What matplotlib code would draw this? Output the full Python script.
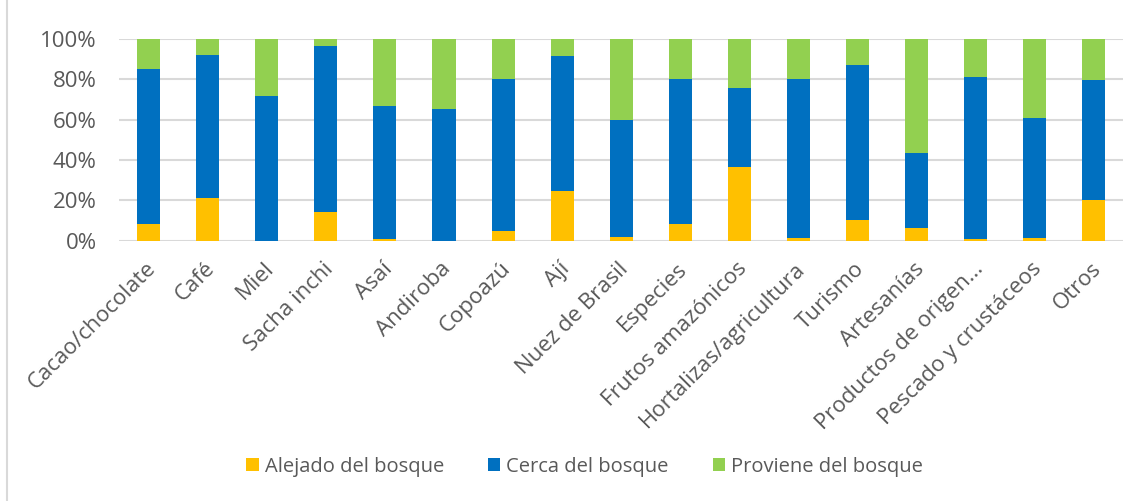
import numpy as np
import matplotlib.pyplot as plt
import matplotlib.patches as patches
import matplotlib.transforms as mtransforms
from matplotlib.ticker import PercentFormatter
#------------------------------
categorias = ["Cacao/chocolate", "Café", "Miel", "Sacha inchi", "Asaí", "Andiroba",
              "Copoazú", "Ají", "Nuez de Brasil", "Especies", "Frutos amazónicos",
              "Hortalizas/agricultura", "Turismo", "Artesanías", "Productos de origen...",
              "Pescado y crustáceos", "Otros"]
alejado  = [8.1, 21.4, 0.0, 14.1, 0.7, 0.0, 4.6, 24.7, 1.8, 8.4, 36.3, 1.3, 10.3, 6.5, 0.8, 1.5, 20.0]
cerca    = [77.2, 70.5, 71.9, 82.3, 66.2, 65.4, 75.7, 66.9, 58.1, 71.9, 39.2, 79.0, 77.0, 37.2, 80.2, 59.1, 59.5]
proviene = [14.7, 8.1, 28.1, 3.6, 33.1, 34.6, 19.7, 8.4, 40.1, 19.7, 24.5, 19.7, 12.7, 56.3, 19.0, 39.4, 20.5]
series = ["Alejado del bosque", "Cerca del bosque", "Proviene del bosque"]
#------------------------------
plt.rcParams['font.family'] = ['Open Sans', 'DejaVu Sans']
gris = '#595959'

fig = plt.figure(figsize=(11.42, 5.01), dpi=100)
ax = fig.add_axes([0.1042, 0.5196, 0.8796, 0.4026])

# borde del area del grafico
fig.patches.append(patches.Rectangle((7/1142, -0.1), 1.2, 1.2, transform=fig.transFigure,
                                     fill=False, edgecolor='#d9d9d9', lw=1.5))

x = np.arange(len(categorias))
a = np.array(alejado)
c = np.array(cerca)
p = np.array(proviene)
w = 0.39
ax.bar(x, a, w, color='#FFC000', label=series[0], zorder=3)
ax.bar(x, c, w, bottom=a, color='#0070C0', label=series[1], zorder=3)
ax.bar(x, p, w, bottom=a+c, color='#92D050', label=series[2], zorder=3)

ax.set_xlim(-0.5, len(categorias)-0.5)
ax.set_ylim(0, 100)
ax.set_yticks(range(0, 101, 20))
ax.yaxis.set_major_formatter(PercentFormatter(decimals=0))
ax.grid(axis='y', color='#d9d9d9', lw=1.5, zorder=0)
for s in ax.spines.values():
    s.set_visible(False)
ax.tick_params(axis='y', length=0, pad=16, labelsize=16, labelcolor=gris)
ax.tick_params(axis='x', length=0, pad=18)
ax.set_xticks(x)
ax.set_xticklabels(categorias, rotation=45, ha='right', va='center',
                   rotation_mode='anchor', fontsize=16, color=gris)
shift = mtransforms.ScaledTranslation(4/100, 0, fig.dpi_scale_trans)
for lbl in ax.get_xticklabels():
    lbl.set_transform(lbl.get_transform() + shift)

leg = fig.legend(loc='center', bbox_to_anchor=(0.512, 0.068), ncol=3, frameon=False,
                 fontsize=14.5, handlelength=0.6, handleheight=0.6, handletextpad=0.3,
                 columnspacing=2.2, labelcolor=gris)

fig.savefig('out.png', dpi=100)
